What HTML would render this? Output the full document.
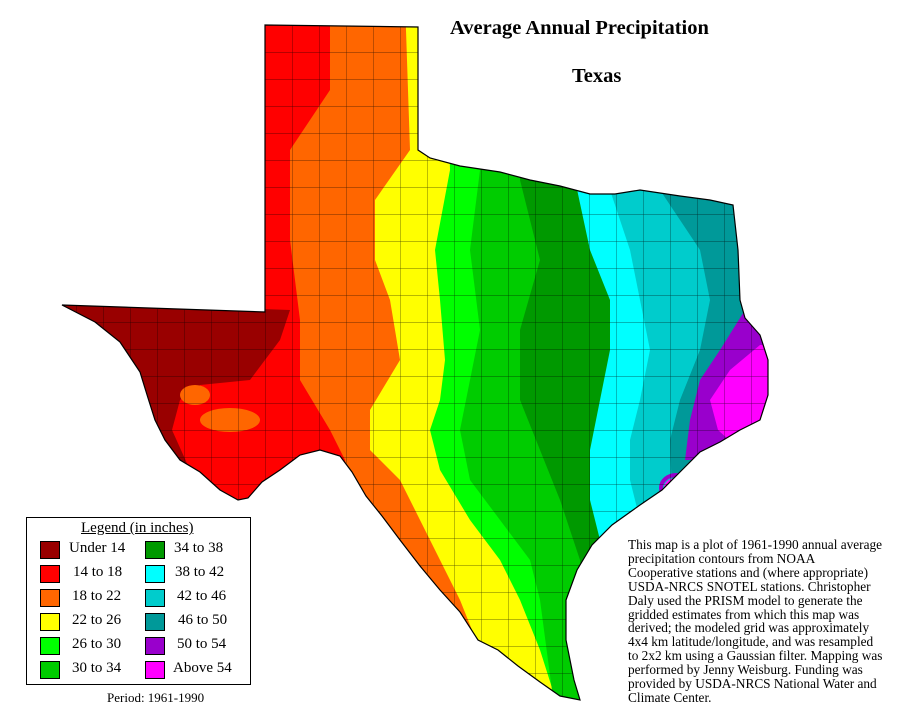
<!DOCTYPE html>
<html><head><meta charset="utf-8"><style>
body{margin:0;background:#fff;width:898px;height:713px;overflow:hidden;position:relative;font-family:"Liberation Serif",serif;}
.t{position:absolute;font-weight:bold;font-size:20.5px;}
#leg{position:absolute;left:26px;top:517px;width:225px;height:168px;border:1.5px solid #000;box-sizing:border-box;}
.sw{position:absolute;width:18px;height:16px;border:1px solid #000;}
.lb{position:absolute;font-size:15px;}
#desc{position:absolute;left:628px;top:538px;font-size:13.3px;line-height:13.9px;white-space:pre;}
</style></head><body>
<svg width="898" height="713" style="position:absolute;left:0;top:0">
<defs>
<clipPath id="tx"><path id="txp" d="M265,25 L418,27 L418,150 L430,158 L460,166 L500,172 L530,180 L560,186 L590,194 L615,194 L640,190 L680,196 L710,200 L733,205 L738,250 L740,300 L745,318 L760,335 L768,360 L768,395 L760,420 L740,430 L720,442 L700,452 L682,470 L662,490 L640,505 L612,525 L592,545 L577,570 L566,600 L566,640 L574,680 L580,700 L560,696 L540,682 L518,666 L498,650 L478,640 L460,612 L440,590 L420,566 L400,540 L382,516 L366,496 L352,472 L340,456 L320,450 L300,455 L280,470 L262,482 L248,498 L238,500 L220,490 L200,472 L180,460 L165,440 L155,420 L148,398 L140,372 L120,342 L95,322 L62,305 L265,312 Z"/></clipPath>
<pattern id="grid" width="27" height="27" patternUnits="userSpaceOnUse" x="265" y="25"><path d="M0,0 H27 M0,0 V27" stroke="#000" stroke-width="0.7" fill="none" opacity="0.75"/></pattern>
</defs>
<g clip-path="url(#tx)">
<rect x="0" y="0" width="898" height="713" fill="#990000"/>
<polygon fill="#ff0000" points="0,0 0,300 290,310 280,340 250,380 200,385 180,400 172,430 190,470 230,500 230,713 898,713 898,0"/>
<polygon fill="#ff6600" points="330,0 330,90 290,150 290,240 300,320 300,380 330,430 345,460 360,713 898,713 898,0"/>
<polygon fill="#ffff00" points="405,0 410,150 375,200 375,260 390,300 400,360 370,410 370,450 400,480 420,520 440,560 460,600 480,650 490,713 898,713 898,0"/>
<polygon fill="#00ff00" points="445,0 450,170 435,250 440,300 445,360 440,400 430,430 440,470 470,520 500,560 520,600 540,650 560,713 898,713 898,0"/>
<polygon fill="#00cc00" points="480,0 480,170 470,250 480,330 470,380 460,430 470,480 500,520 530,560 540,600 555,713 898,713 898,0"/>
<polygon fill="#009900" points="520,0 520,180 540,260 520,330 520,400 540,450 560,500 570,530 580,560 590,713 898,713 898,0"/>
<polygon fill="#00ffff" points="575,0 575,180 590,250 610,300 610,350 600,400 590,450 590,500 600,540 610,713 898,713 898,0"/>
<polygon fill="#00cccc" points="610,0 610,190 630,250 640,300 650,350 640,400 630,440 630,480 640,520 650,713 898,713 898,0"/>
<polygon fill="#009999" points="660,0 660,190 700,250 710,300 700,350 680,400 670,440 680,713 898,713 898,0"/>
<polygon fill="#9900cc" points="745,310 720,350 700,380 690,420 685,460 898,460 898,310"/>
<polygon fill="#ff00ff" points="760,345 730,370 710,400 718,430 740,450 898,450 898,345"/>
<ellipse cx="676" cy="488" rx="12" ry="10" fill="#ff00ff"/>
<ellipse cx="676" cy="488" rx="15" ry="13" fill="none" stroke="#9900cc" stroke-width="4"/>
<ellipse cx="230" cy="420" rx="30" ry="12" fill="#ff6600"/>
<ellipse cx="195" cy="395" rx="15" ry="10" fill="#ff6600"/>
<rect x="0" y="0" width="898" height="713" fill="url(#grid)"/>
</g>
<use href="#txp" fill="none" stroke="#000" stroke-width="1.2"/>
</svg>
<div class="t" style="left:450px;top:17px">Average Annual Precipitation</div>
<div class="t" style="left:572px;top:65px">Texas</div>
<div id="leg">
<div class="lb" style="left:54px;top:2px;text-decoration:underline">Legend (in inches)</div>
<div class="sw" style="left:13px;top:23px;background:#990000"></div><div class="lb" style="left:42px;top:22px">Under 14</div>
<div class="sw" style="left:13px;top:47px;background:#ff0000"></div><div class="lb" style="left:46px;top:46px">14 to 18</div>
<div class="sw" style="left:13px;top:71px;background:#ff6600"></div><div class="lb" style="left:45px;top:70px">18 to 22</div>
<div class="sw" style="left:13px;top:95px;background:#ffff00"></div><div class="lb" style="left:45px;top:94px">22 to 26</div>
<div class="sw" style="left:13px;top:119px;background:#00ff00"></div><div class="lb" style="left:45px;top:118px">26 to 30</div>
<div class="sw" style="left:13px;top:143px;background:#00cc00"></div><div class="lb" style="left:45px;top:142px">30 to 34</div>
<div class="sw" style="left:118px;top:23px;background:#009900"></div><div class="lb" style="left:147px;top:22px">34 to 38</div>
<div class="sw" style="left:118px;top:47px;background:#00ffff"></div><div class="lb" style="left:148px;top:46px">38 to 42</div>
<div class="sw" style="left:118px;top:71px;background:#00cccc"></div><div class="lb" style="left:150px;top:70px">42 to 46</div>
<div class="sw" style="left:118px;top:95px;background:#009999"></div><div class="lb" style="left:151px;top:94px">46 to 50</div>
<div class="sw" style="left:118px;top:119px;background:#9900cc"></div><div class="lb" style="left:150px;top:118px">50 to 54</div>
<div class="sw" style="left:118px;top:143px;background:#ff00ff"></div><div class="lb" style="left:146px;top:142px">Above 54</div>
</div>
<div class="lb" style="left:107px;top:690px;font-size:13px">Period: 1961-1990</div>
<div id="desc">This map is a plot of 1961-1990 annual average
precipitation contours from NOAA
Cooperative stations and (where appropriate)
USDA-NRCS SNOTEL stations. Christopher
Daly used the PRISM model to generate the
gridded estimates from which this map was
derived; the modeled grid was approximately
4x4 km latitude/longitude, and was resampled
to 2x2 km using a Gaussian filter. Mapping was
performed by Jenny Weisburg. Funding was
provided by USDA-NRCS National Water and
Climate Center.</div>
</body></html>
